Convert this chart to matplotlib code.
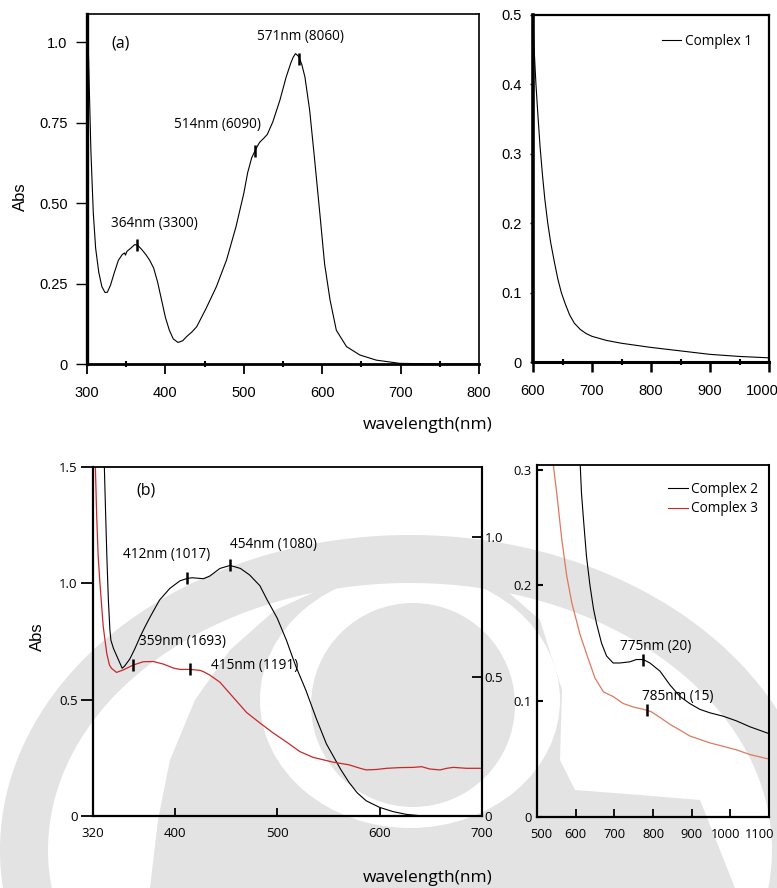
import numpy as np
import matplotlib
matplotlib.use("Agg")
import matplotlib.pyplot as plt
from matplotlib.patches import Polygon, Circle, Ellipse
from matplotlib.transforms import ScaledTranslation

# ---------------- data ----------------
# Complex 1, UV-vis region (panel a, left)
c1_uv_wl = [300, 301, 303, 305, 308, 311, 315, 319, 323, 326, 330, 335, 340, 345, 348, 349,
            351, 355, 361, 365, 370, 375, 380, 385, 390, 395, 400, 405, 410, 416, 422, 427,
            434, 440, 452, 465, 478, 490, 500, 505, 510, 515, 520, 525, 530, 537, 546, 554,
            560, 563, 566, 570, 574, 578, 584, 590, 597, 603, 610, 618, 631, 648, 669, 699,
            750, 800]
c1_uv_abs = [1.10, 1.05, 0.85, 0.66, 0.47, 0.36, 0.285, 0.24, 0.222, 0.223, 0.245, 0.285,
             0.322, 0.340, 0.345, 0.338, 0.350, 0.358, 0.371, 0.368, 0.355, 0.340, 0.322,
             0.298, 0.255, 0.200, 0.145, 0.105, 0.078, 0.067, 0.072, 0.085, 0.100, 0.116,
             0.173, 0.240, 0.323, 0.426, 0.530, 0.595, 0.640, 0.666, 0.688, 0.700, 0.713,
             0.752, 0.819, 0.891, 0.935, 0.953, 0.964, 0.955, 0.930, 0.891, 0.788, 0.643,
             0.467, 0.312, 0.199, 0.105, 0.054, 0.028, 0.012, 0.002, 0.0, 0.0]

# Complex 1, NIR region (panel a, right)
c1_nir_wl = [600, 602, 605, 608, 612, 616, 620, 625, 630, 636, 642, 648, 655, 662, 670, 680,
             690, 700, 725, 750, 800, 850, 900, 950, 1000]
c1_nir_abs = [0.49, 0.45, 0.40, 0.36, 0.31, 0.27, 0.235, 0.20, 0.172, 0.145, 0.120, 0.100,
              0.083, 0.068, 0.056, 0.047, 0.041, 0.037, 0.031, 0.027, 0.021, 0.016, 0.011,
              0.008, 0.006]

# Complex 2 and 3, UV-vis region (panel b, left)
c2_uv_wl = [330.5, 332, 333.5, 335, 336.5, 337.5, 340, 344, 348.5, 351, 356, 361, 366, 371,
            376, 385, 395, 405, 412, 417, 422, 428, 434, 444, 454, 464, 473, 483, 490, 500,
            509, 518, 528, 538, 548, 555, 562, 570, 578, 587, 600, 613, 626, 640, 660, 700]
c2_uv_abs = [1.60, 1.35, 1.12, 0.93, 0.80, 0.755, 0.72, 0.68, 0.635, 0.645, 0.675, 0.72,
             0.77, 0.815, 0.857, 0.928, 0.978, 1.011, 1.021, 1.024, 1.022, 1.020, 1.031,
             1.064, 1.077, 1.064, 1.036, 0.99, 0.93, 0.85, 0.755, 0.645, 0.54, 0.42, 0.31,
             0.255, 0.20, 0.145, 0.10, 0.065, 0.037, 0.019, 0.007, 0.001, 0.0, 0.0]

c3_uv_wl = [322, 323.6, 325, 326.8, 328.5, 330, 333.4, 336, 338, 343, 349.6, 359.4, 369, 379,
            388.7, 398.5, 405, 414.8, 424.5, 428, 434, 444, 450, 460, 470, 483, 496, 510, 522,
            535, 554, 570, 581, 587, 597, 607, 620, 633, 641, 649, 659, 665.5, 672, 685, 700]
c3_uv_abs = [1.55, 1.29, 1.12, 1.0, 0.90, 0.814, 0.70, 0.65, 0.635, 0.617, 0.628, 0.649,
             0.663, 0.664, 0.653, 0.636, 0.630, 0.630, 0.626, 0.620, 0.606, 0.575, 0.545,
             0.495, 0.445, 0.400, 0.357, 0.315, 0.277, 0.252, 0.232, 0.220, 0.205, 0.198,
             0.200, 0.205, 0.208, 0.209, 0.212, 0.202, 0.198, 0.205, 0.209, 0.205, 0.205]

# Complex 2 and 3, NIR region (panel b, right)
c2_nir_wl = [611, 615, 620, 628, 637, 646, 654, 667, 680, 697, 714, 740, 757, 775, 792, 818,
             844, 870, 895, 921, 947, 982, 1016, 1050, 1100]
c2_nir_abs = [0.31, 0.28, 0.258, 0.225, 0.200, 0.180, 0.167, 0.150, 0.139, 0.133, 0.133,
              0.134, 0.136, 0.136, 0.133, 0.126, 0.114, 0.104, 0.098, 0.093, 0.090, 0.087,
              0.083, 0.078, 0.072]

c3_nir_wl = [540, 551, 564, 577, 590, 611, 629, 650, 672, 697, 723, 749, 775, 795, 818, 844,
             870, 895, 921, 947, 982, 1016, 1050, 1100]
c3_nir_abs = [0.31, 0.28, 0.24, 0.208, 0.185, 0.158, 0.140, 0.120, 0.108, 0.104, 0.098,
              0.095, 0.093, 0.091, 0.086, 0.080, 0.075, 0.070, 0.067, 0.064, 0.061, 0.058,
              0.054, 0.050]

# band annotations: (wavelength, text)
peaks_c1 = [(364, "364nm (3300)"), (514, "514nm (6090)"), (571, "571nm (8060)")]
peaks_c2 = [(412, "412nm (1017)"), (454, "454nm (1080)")]
peaks_c3 = [(359, "359nm (1693)"), (415, "415nm (1191)")]
peaks_c2_nir = [(775, "775nm (20)")]
peaks_c3_nir = [(785, "785nm (15)")]

# ---------------- styling ----------------
W, H = 777, 888
SANS = ["Liberation Sans", "DejaVu Sans"]
HUM = ["Open Sans", "DejaVu Sans"]
RED = "#c8282a"
SALMON = "#dc7a5e"
GREY_WM = "#e3e3e3"

fig = plt.figure(figsize=(W / 100, H / 100), dpi=100)


def frac(x0, y0, x1, y1):
    return [x0 / W, 1 - y1 / H, (x1 - x0) / W, (y1 - y0) / H]


# background emblem, drawn in pixel coordinates
bg = fig.add_axes([0, 0, 1, 1], zorder=0)
bg.set_xlim(0, W)
bg.set_ylim(H, 0)
bg.axis("off")


def ellipse_ring(cx, cy, ao, bo, ai, bi):
    t = np.radians(np.linspace(0, 360, 400))
    outer = np.c_[cx + ao * np.cos(t), cy + bo * np.sin(t)]
    inner = np.c_[cx + ai * np.cos(t[::-1]), cy + bi * np.sin(t[::-1])]
    return np.vstack([outer, inner])


crescent = [(150, 888), (158, 820), (170, 760), (195, 700), (230, 650), (275, 610),
            (330, 585), (420, 580), (500, 585), (540, 620), (562, 690), (560, 760),
            (575, 790), (640, 795), (700, 800), (735, 888)]
bg.add_patch(Polygon(crescent, closed=True, fc=GREY_WM, ec="none"))
bg.add_patch(Ellipse((410, 700), 300, 256, fc="white", ec="none"))
bg.add_patch(Polygon(ellipse_ring(410, 850, 410, 315, 362, 267), closed=True,
                     fc=GREY_WM, ec="none"))
bg.add_patch(Circle((413, 705), 102, fc=GREY_WM, ec="none"))


def style_spines(ax, widths):
    for side, w in widths.items():
        ax.spines[side].set_linewidth(w)


def mark(ax, abs_wl, abs_val, x, ms=8):
    y = float(np.interp(x, abs_wl, abs_val))
    ax.plot([x], [y], marker="|", ms=ms, mew=1.8, color="k", zorder=5)


def nudge(label, dx_px):
    label.set_transform(label.get_transform() + ScaledTranslation(dx_px / 100, 0, fig.dpi_scale_trans))


# ---------------- panel (a), left ----------------
ax1 = fig.add_axes(frac(87, 14, 479, 364), zorder=1)
ax1.set_facecolor("none")
ax1.plot(c1_uv_wl, c1_uv_abs, color="k", lw=0.8)
ax1.set_xlim(300, 800)
ax1.set_ylim(0, 1.087)
ax1.set_xticks([300, 400, 500, 600, 700, 800])
ax1.set_xticks([350, 450, 550, 650, 750], minor=True)
ax1.set_yticks([0, 0.25, 0.5, 0.75, 1.0])
ax1.set_yticklabels(["0", "0.25", "0.50", "0.75", "1.0"])
ax1.tick_params(axis="x", which="major", direction="out", length=7, width=1.3, pad=9)
ax1.tick_params(axis="x", which="minor", direction="inout", length=4, width=1.5)
ax1.tick_params(axis="y", direction="out", length=8, width=1.0, pad=6)
for lab in ax1.get_xticklabels() + ax1.get_yticklabels():
    lab.set_fontfamily(SANS)
    lab.set_fontsize(10.5)
style_spines(ax1, {"left": 2.4, "bottom": 2.0, "top": 1.2, "right": 1.2})
for wl, txt in peaks_c1:
    mark(ax1, c1_uv_wl, c1_uv_abs, wl)
ax1.text(385.5, 0.435, "364nm (3300)", ha="center", va="center", fontsize=9.8, family=HUM)
ax1.text(467, 0.745, "514nm (6090)", ha="center", va="center", fontsize=9.8, family=HUM)
ax1.text(571.7, 1.016, "571nm (8060)", ha="center", va="center", fontsize=9.8, family=HUM)
ax1.text(343, 0.994, "(a)", ha="center", va="center", fontsize=11.5, family=HUM)

# ---------------- panel (a), right ----------------
ax2 = fig.add_axes(frac(533, 15, 769, 362), zorder=1)
ax2.set_facecolor("none")
ax2.plot(c1_nir_wl, c1_nir_abs, color="k", lw=0.8, label="Complex 1")
ax2.set_xlim(600, 1000)
ax2.set_ylim(0, 0.5)
ax2.set_xticks([600, 700, 800, 900, 1000])
ax2.set_xticks([650, 750, 850, 950], minor=True)
ax2.set_yticks([0, 0.1, 0.2, 0.3, 0.4, 0.5])
ax2.set_yticklabels(["0", "0.1", "0.2", "0.3", "0.4", "0.5"])
ax2.tick_params(axis="x", which="major", direction="out", length=7, width=1.8, pad=9)
ax2.tick_params(axis="x", which="minor", direction="inout", length=4, width=1.5)
ax2.tick_params(axis="y", direction="out", length=2, width=1.0, pad=6)
for lab in ax2.get_xticklabels() + ax2.get_yticklabels():
    lab.set_fontfamily(SANS)
    lab.set_fontsize(10.5)
nudge(ax2.get_xticklabels()[-1], -7)
style_spines(ax2, {"left": 2.6, "bottom": 2.2, "top": 1.6, "right": 1.6})
leg = ax2.legend(loc="upper left", bbox_to_anchor=(0.545, 0.945), frameon=False,
                 handlelength=1.45, handletextpad=0.25, borderpad=0, borderaxespad=0,
                 prop={"family": HUM, "size": 9.8})
for ln in leg.get_lines():
    ln.set_linewidth(0.8)

# ---------------- panel (b), left ----------------
ax3 = fig.add_axes(frac(93, 467, 482, 816), zorder=2)
ax3.set_facecolor("none")
ax3.plot(c2_uv_wl, c2_uv_abs, color="k", lw=0.8)
ax3.plot(c3_uv_wl, c3_uv_abs, color=RED, lw=0.9)
ax3.set_xlim(320, 700)
ax3.set_ylim(0, 1.5)
ax3.set_xticks([320, 400, 500, 600, 700])
ax3.set_yticks([0, 0.5, 1.0, 1.5])
ax3.set_yticklabels(["0", "0.5", "1.0", "1.5"])
ax3.tick_params(axis="x", direction="in", length=5.5, width=1.3, pad=8)
ax3.tick_params(axis="y", direction="out", length=9, width=1.3, pad=2)
for lab in ax3.get_xticklabels() + ax3.get_yticklabels():
    lab.set_fontfamily(HUM)
    lab.set_fontsize(9.5)
style_spines(ax3, {"left": 1.6, "bottom": 1.6, "top": 1.3, "right": 1.5})
for wl, txt in peaks_c2:
    mark(ax3, c2_uv_wl, c2_uv_abs, wl)
for wl, txt in peaks_c3:
    mark(ax3, c3_uv_wl, c3_uv_abs, wl)
ax3.text(392.3, 1.126, "412nm (1017)", ha="center", va="center", fontsize=9.8, family=HUM)
ax3.text(496.8, 1.169, "454nm (1080)", ha="center", va="center", fontsize=9.8, family=HUM)
ax3.text(407, 0.752, "359nm (1693)", ha="center", va="center", fontsize=9.8, family=HUM)
ax3.text(478.3, 0.645, "415nm (1191)", ha="center", va="center", fontsize=9.8, family=HUM)
ax3.text(371.8, 1.397, "(b)", ha="center", va="center", fontsize=11.5, family=HUM)

ax3r = ax3.twinx()
ax3r.set_ylim(0, 1.251)
ax3r.set_yticks([0, 0.5, 1.0])
ax3r.set_yticklabels(["0", "0.5", "1.0"])
ax3r.tick_params(axis="y", direction="in", length=7, width=1.3, pad=2)
for lab in ax3r.get_yticklabels():
    lab.set_fontfamily(HUM)
    lab.set_fontsize(9.5)
for side in ["left", "top", "bottom"]:
    ax3r.spines[side].set_visible(False)
ax3r.spines["right"].set_linewidth(1.5)

# ---------------- panel (b), right ----------------
ax4 = fig.add_axes(frac(537, 465, 769, 817), zorder=2)
ax4.set_facecolor("none")
ax4.plot(c2_nir_wl, c2_nir_abs, color="k", lw=0.8, label="Complex 2")
ax4.plot(c3_nir_wl, c3_nir_abs, color=SALMON, lw=0.9)
ax4.plot([], [], color=RED, lw=0.9, label="Complex 3")
ax4.set_xlim(500, 1100)
ax4.set_ylim(0, 0.304)
ax4.set_xticks([500, 600, 700, 800, 900, 1000, 1100])
ax4.set_yticks([0, 0.1, 0.2, 0.3])
ax4.set_yticklabels(["0", "0.1", "0.2", "0.3"])
ax4.tick_params(axis="x", direction="in", length=6, width=1.3, pad=8)
ax4.tick_params(axis="y", direction="in", length=4, width=1.5, pad=4)
for lab in ax4.get_xticklabels() + ax4.get_yticklabels():
    lab.set_fontfamily(HUM)
    lab.set_fontsize(9.3)
xl4 = ax4.get_xticklabels()
nudge(xl4[0], 4)
nudge(xl4[-2], -5)
nudge(xl4[-1], -9)
style_spines(ax4, {"left": 1.6, "bottom": 1.6, "top": 1.3, "right": 1.5})
for wl, txt in peaks_c2_nir:
    mark(ax4, c2_nir_wl, c2_nir_abs, wl)
for wl, txt in peaks_c3_nir:
    mark(ax4, c3_nir_wl, c3_nir_abs, wl)
ax4.text(807.5, 0.147, "775nm (20)", ha="center", va="center", fontsize=9.8, family=HUM)
ax4.text(864, 0.1037, "785nm (15)", ha="center", va="center", fontsize=9.8, family=HUM)
leg4 = ax4.legend(loc="upper left", bbox_to_anchor=(0.565, 0.951), frameon=False,
                  handlelength=1.45, handletextpad=0.25, borderpad=0, borderaxespad=0,
                  labelspacing=0.3, prop={"family": HUM, "size": 9.8})
for ln in leg4.get_lines():
    ln.set_linewidth(0.8)

# ---------------- shared labels ----------------
fig.text(428 / W, 1 - 425 / H, "wavelength(nm)", ha="center", va="center",
         fontsize=12.5, family=HUM)
fig.text(428 / W, 1 - 878 / H, "wavelength(nm)", ha="center", va="center",
         fontsize=12.5, family=HUM)
fig.text(20 / W, 1 - 197 / H, "Abs", ha="center", va="center", rotation=90,
         fontsize=12, family=SANS)
fig.text(37 / W, 1 - 637 / H, "Abs", ha="center", va="center", rotation=90,
         fontsize=12, family=SANS)

fig.savefig("out.png", dpi=100)
